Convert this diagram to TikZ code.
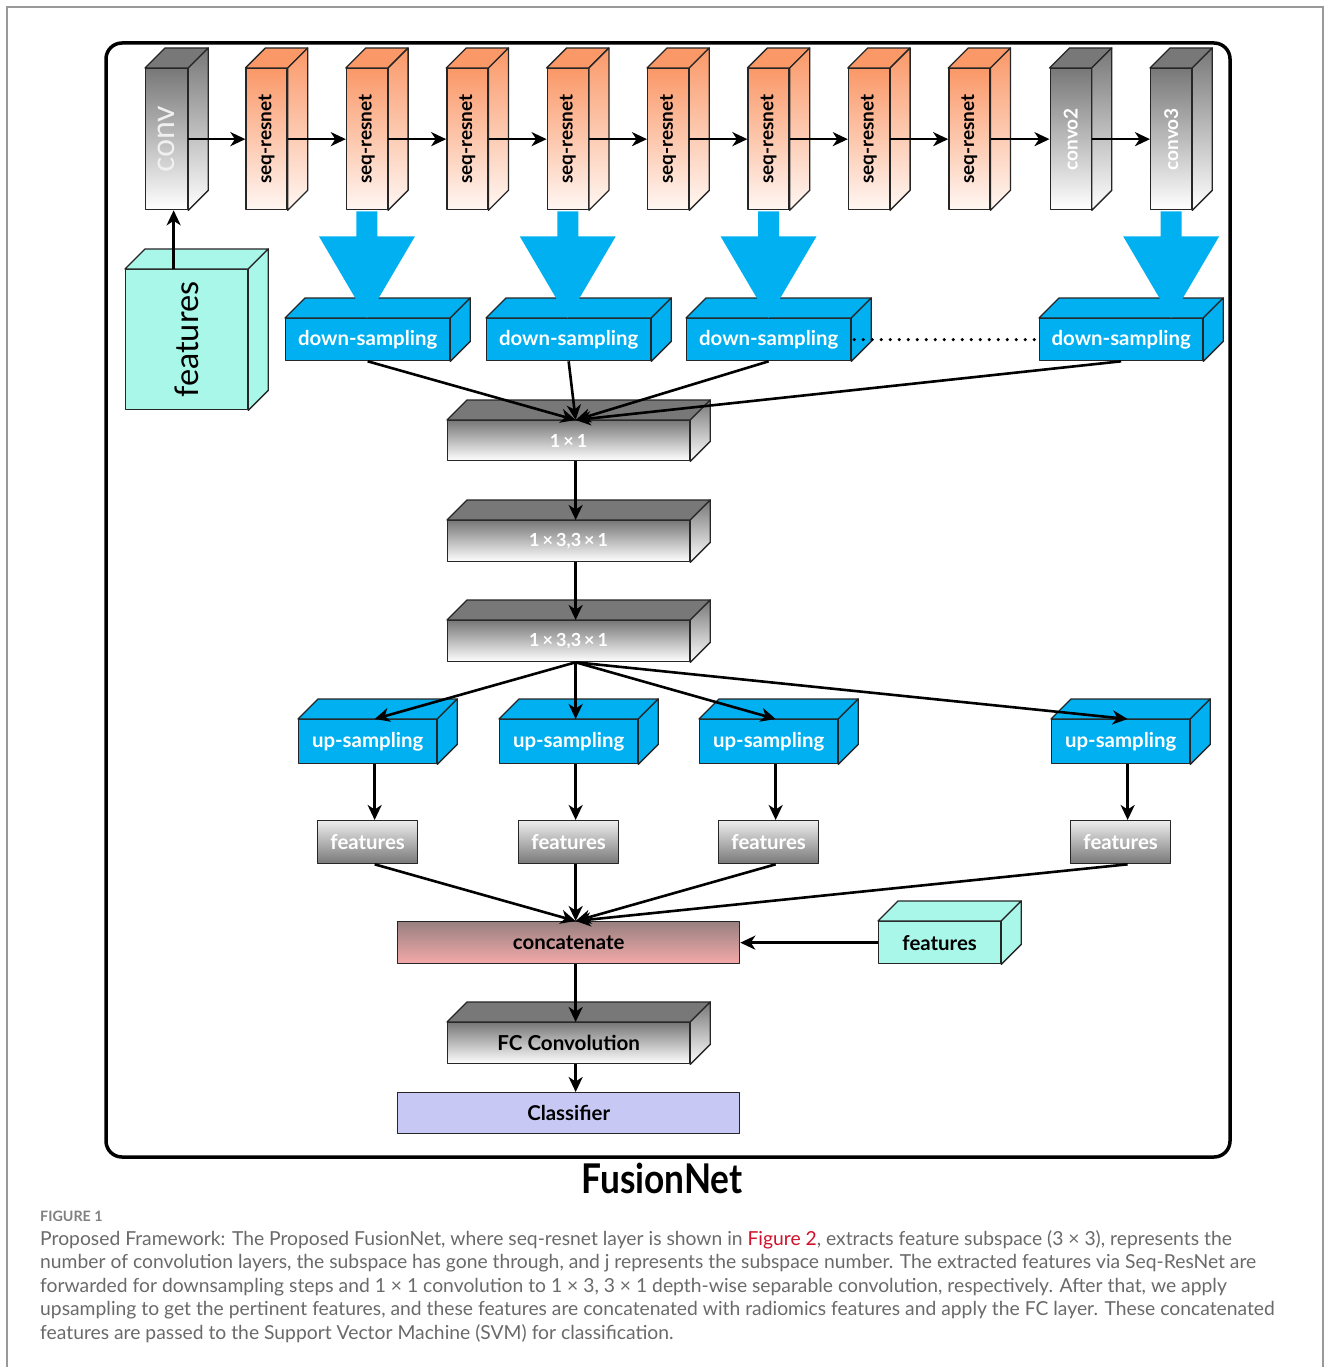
\documentclass[tikz,border=0pt]{standalone}
\usepackage{fontspec}
\setmainfont{Lato}
\usetikzlibrary{calc,arrows.meta}
\definecolor{orng}{HTML}{FA9868}
\definecolor{orngl}{HTML}{FFF7F3}
\definecolor{gtop}{HTML}{787878}
\definecolor{skyb}{HTML}{00B0F0}
\definecolor{mint}{HTML}{A8F7E9}
\definecolor{cattop}{HTML}{988080}
\definecolor{catbot}{HTML}{F5A9A9}
\definecolor{lav}{HTML}{C8C8F5}
\definecolor{capgrey}{HTML}{6A6A6A}
\definecolor{figred}{HTML}{D0112B}
\newcommand\fsz[1]{\fontsize{#1}{#1}\selectfont}
\newcommand\depthfaces[3]{%
  \path[draw=black!85,line width=1.3pt,line join=round,fill=#2] (#1.north west) -- ++(20,-20) -- ($(#1.north east)+(20,-20)$) -- (#1.north east) -- cycle;
  \path[draw=black!85,line width=1.3pt,line join=round,top color=#2,bottom color=#3] (#1.north east) -- ++(20,-20) -- ($(#1.south east)+(20,-20)$) -- (#1.south east) -- cycle;}
\newcommand\bigdown[2]{%
  \fill[skyb] ($(#1.south)+(-10.5,1)$) -- ($(#1.south)+(-10.5,26)$) -- ($(#1.south)+(-48,26)$) -- (#2.north -| #1.south) -- ($(#1.south)+(48,26)$) -- ($(#1.south)+(10.5,26)$) -- ($(#1.south)+(10.5,1)$) -- cycle;}

\begin{document}
\begin{tikzpicture}[x=1pt,y=-1pt,
  face/.style={draw=black!85,line width=1.3pt,inner sep=0pt,anchor=north west,line join=round},
  tallbox/.style={face,minimum width=41pt,minimum height=141pt},
  greyfill/.style={top color=gtop,bottom color=white},
  flatbox/.style={face,minimum width=242pt,minimum height=41pt,greyfill,text=white,font=\bfseries\fsz{18}},
  dsbox/.style={face,fill=skyb,minimum width=164pt,minimum height=42pt,text=white,font=\bfseries\fsz{20.4}},
  upbox/.style={face,fill=skyb,minimum width=138pt,minimum height=44pt,text=white,font=\bfseries\fsz{20.4}},
  featbox/.style={face,top color=white!93!black,bottom color=gtop,minimum width=100pt,minimum height=43pt,text=white,font=\bfseries\fsz{20.4}},
  widebox/.style={face,minimum width=342pt,minimum height=42pt,font=\bfseries\fsz{20.4}},
  captxt/.style={anchor=base west,inner sep=0pt,text=capgrey,font=\fsz{19.3}},
  arr/.style={line width=2.6pt,-{Stealth[length=15pt,width=14pt,inset=4.5pt]}}]
\useasboundingbox (0,0) rectangle (1330,1367);
\fill[white] (0,0) rectangle (1330,1367);
\draw[black!40,line width=1.5pt] (7,1380) -- (7,7) -- (1323,7) -- (1323,1380);
\draw[line width=3.5pt,rounded corners=16pt] (106,43) rectangle (1230,1157);

\node[tallbox,greyfill,minimum width=42pt,label={[rotate=90,font=\fsz{32},text=white!88!gray]center:conv}] (conv) at (145,68) {};
\depthfaces{conv}{gtop}{white}
\foreach \i in {1,...,8}{
  \node[tallbox,top color=orng,bottom color=orngl,label={[rotate=90,font=\bfseries\fsz{19}]center:seq-resnet}] (sr\i) at ({145+100.4*\i},68) {};
  \depthfaces{sr\i}{orng}{orngl}
}
\node[tallbox,greyfill,label={[rotate=90,font=\bfseries\fsz{19},text=white]center:convo2}] (cv2) at (1049.5,68) {};
\depthfaces{cv2}{gtop}{white}
\node[tallbox,greyfill,label={[rotate=90,font=\bfseries\fsz{19},text=white]center:convo3}] (cv3) at (1150,68) {};
\depthfaces{cv3}{gtop}{white}

\node[face,fill=mint,minimum width=122pt,minimum height=140pt,label={[rotate=90,font=\fsz{32.5}]center:features}] (feat) at (125,269) {};
\depthfaces{feat}{mint}{mint}

\node[dsbox] (ds1) at (285,318) {down-sampling};
\node[dsbox] (ds2) at (486,318) {down-sampling};
\node[dsbox] (ds3) at (686,318) {down-sampling};
\node[dsbox,minimum width=163pt] (ds4) at (1039,318) {down-sampling};
\foreach \n in {ds1,ds2,ds3,ds4} {\depthfaces{\n}{skyb}{skyb}}
\bigdown{sr2}{ds1}
\bigdown{sr4}{ds2}
\bigdown{sr6}{ds3}
\bigdown{cv3}{ds4}
\draw[line width=3.5pt,line cap=round,dash pattern=on 0pt off 9pt] ([xshift=3pt]ds3.east) -- (ds4.west);

\node[flatbox,minimum height=40pt] (c1) at (447,420) {1\,×\,1};
\node[flatbox] (c2) at (447,520) {1\,×\,3,3\,×\,1};
\node[flatbox] (c3) at (447,620) {1\,×\,3,3\,×\,1};
\foreach \n in {c1,c2,c3} {\depthfaces{\n}{gtop}{white}}

\node[upbox] (up1) at (298,719) {up-sampling};
\node[upbox] (up2) at (499,719) {up-sampling};
\node[upbox] (up3) at (699,719) {up-sampling};
\node[upbox] (up4) at (1051,719) {up-sampling};
\foreach \n in {up1,up2,up3,up4} {\depthfaces{\n}{skyb}{skyb}}

\node[featbox] (fe1) at (317,820) {features};
\node[featbox] (fe2) at (518,820) {features};
\node[featbox] (fe3) at (718,820) {features};
\node[featbox] (fe4) at (1070,820) {features};

\node[widebox,top color=cattop,bottom color=catbot] (cat) at (397,921) {concatenate};
\node[face,fill=mint,minimum width=122pt,minimum height=42pt,font=\bfseries\fsz{20.4}] (fg) at (878,921) {features};
\depthfaces{fg}{mint}{mint}
\node[flatbox,text=black,font=\bfseries\fsz{20.6}] (fc) at (447,1022) {FC Convolution};
\depthfaces{fc}{gtop}{white}
\node[widebox,fill=lav,minimum height=41pt] (cls) at (397,1092) {Classifier};

\draw[arr] ([xshift=-13pt]feat.north) -- ([xshift=7pt]conv.south);
\draw[arr] (conv.east) -- (sr1.west);
\foreach \i [evaluate=\i as \j using int(\i+1)] in {1,...,7} {\draw[arr] (sr\i.east) -- (sr\j.west);}
\draw[arr] (sr8.east) -- (cv2.west);
\draw[arr] (cv2.east) -- (cv3.west);
\foreach \n in {ds1,ds2,ds3,ds4} {\draw[arr] (\n.south) -- ([xshift=7pt]c1.north);}
\draw[arr] ([xshift=7pt]c1.south) -- ([xshift=7pt]c2.north);
\draw[arr] ([xshift=7pt]c2.south) -- ([xshift=7pt]c3.north);
\foreach \i in {1,...,4}{
  \draw[arr] ([xshift=7pt]c3.south) -- ([xshift=7pt]up\i.north);
  \draw[arr] ([xshift=7pt]up\i.south) -- ([xshift=7pt]fe\i.north);
  \draw[arr] ([xshift=7pt]fe\i.south) -- ([xshift=7pt]cat.north);
}
\draw[arr] (fg.west) -- (cat.east);
\draw[arr] ([xshift=7pt]cat.south) -- ([xshift=7pt]fc.north);
\draw[arr] ([xshift=7pt]fc.south) -- ([xshift=7pt]cls.north);

\node[font=\bfseries\fsz{41}] (title) at (662,1178) {\scalebox{0.86}[1]{FusionNet}};
\node[anchor=base west,inner sep=0pt,text=capgrey!85!white,font=\bfseries\fsz{14.3}] (fig) at (40,1221) {FIGURE 1};
\node[captxt] (cap1) at (40,1245) {Proposed Framework: The Proposed FusionNet, where seq-resnet layer is shown in \textcolor{figred}{Figure 2}, extracts feature subspace (3 × 3), represents the};
\node[captxt] (cap2) at (40,1268.6) {number of convolution layers, the subspace has gone through, and j represents the subspace number. The extracted features via Seq-ResNet are};
\node[captxt] (cap3) at (40,1292.2) {forwarded for downsampling steps and 1 × 1 convolution to 1 × 3, 3 × 1 depth-wise separable convolution, respectively. After that, we apply};
\node[captxt] (cap4) at (40,1315.8) {upsampling to get the pertinent features, and these features are concatenated with radiomics features and apply the FC layer. These concatenated};
\node[captxt] (cap5) at (40,1339.4) {features are passed to the Support Vector Machine (SVM) for classification.};
\end{tikzpicture}
\end{document}
